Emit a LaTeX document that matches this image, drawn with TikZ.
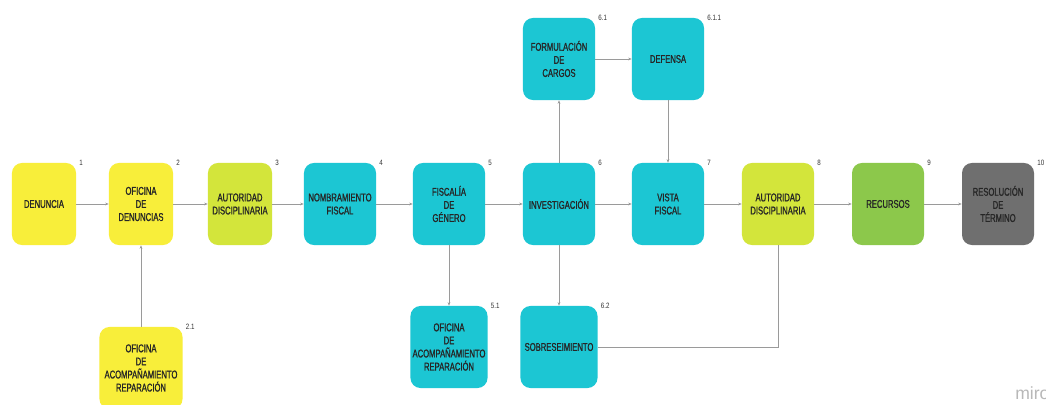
\documentclass[tikz,border=0pt]{standalone}
\usepackage{fontspec}
\setmainfont{Liberation Sans}
\newfontfamily\boxfont{Liberation Sans}[FakeStretch=0.68, FakeBold=1.2]
\newfontfamily\numfont{Liberation Sans}[FakeStretch=0.8]
\usetikzlibrary{positioning, arrows.meta}
\definecolor{denyellow}{HTML}{F8EE3A}
\definecolor{authlime}{HTML}{D3E53B}
\definecolor{fiscyan}{HTML}{1CC6D3}
\definecolor{recgreen}{HTML}{8CC84B}
\definecolor{endgray}{HTML}{6F6F6F}
\definecolor{linkgray}{HTML}{9A9A9A}

\begin{document}
\begin{tikzpicture}[x=0.025cm, y=-0.025cm,
  stage/.style={rounded corners=0.25cm, minimum width=1.8cm, minimum height=2.05cm,
    align=center, inner sep=1pt, font=\boxfont\fontsize{8}{9.3}\selectfont, text=black!85},
  narrow/.style={minimum width=1.6cm},
  wide/.style={minimum width=1.925cm},
  num/.style={font=\numfont\fontsize{5.5}{5.5}\selectfont, text=black!80, inner sep=1pt},
  link/.style={draw=linkgray, line width=0.5pt, -{Stealth[length=2.5pt, width=2pt]}},
  joinline/.style={draw=linkgray, line width=0.5pt}
]
  \useasboundingbox[fill=white] (0,0) rectangle (1046,405);

  % Main row
  \node[stage, narrow, fill=denyellow] (d1) at (44,204) {DENUNCIA};
  \node[stage, narrow, fill=denyellow] (d2) at (141,204) {OFICINA\\DE\\DENUNCIAS};
  \node[stage, narrow, fill=authlime] (d3) at (240,204) {AUTORIDAD\\DISCIPLINARIA};
  \node[stage, fill=fiscyan] (d4) at (340,204) {NOMBRAMIENTO\\FISCAL};
  \node[stage, fill=fiscyan] (d5) at (449,204) {FISCALÍA\\DE\\GÉNERO};
  \node[stage, fill=fiscyan] (d6) at (559,204) {INVESTIGACIÓN};
  \node[stage, fill=fiscyan] (d7) at (668,204) {VISTA\\FISCAL};
  \node[stage, fill=authlime] (d8) at (778,204) {AUTORIDAD\\DISCIPLINARIA};
  \node[stage, fill=recgreen] (d9) at (888,204) {RECURSOS};
  \node[stage, fill=endgray] (d10) at (998,204) {RESOLUCIÓN\\DE\\TÉRMINO};

  % Upper branch
  \node[stage, fill=fiscyan] (d61) at (559,59) {FORMULACIÓN\\DE\\CARGOS};
  \node[stage, fill=fiscyan] (d611) at (668,59) {DEFENSA};

  % Lower branch
  \node[stage, minimum width=2.075cm, fill=denyellow] (d21) at (141,368)
    {OFICINA\\DE\\ACOMPAÑAMIENTO\\REPARACIÓN};
  \node[stage, wide, fill=fiscyan] (d51) at (449,347)
    {OFICINA\\DE\\ACOMPAÑAMIENTO\\REPARACIÓN};
  \node[stage, wide, fill=fiscyan] (d62) at (559,347) {SOBRESEIMIENTO};

  % Step numbers
  \foreach \n/\t in {d1/1, d2/2, d3/3, d4/4, d5/5, d6/6, d7/7, d8/8, d9/9, d10/10,
                     d61/6.1, d611/6.1.1, d21/2.1, d51/5.1, d62/6.2}
    \node[num, right=1pt of \n.north east] (n\n) {\t};

  % Connectors
  \foreach \a/\b in {d1/d2, d2/d3, d3/d4, d4/d5, d5/d6, d6/d7, d7/d8, d8/d9, d9/d10,
                     d21/d2, d5/d51, d6/d61, d6/d62, d61/d611, d611/d7}
    \draw[link] (\a) -- (\b);
  \draw[joinline] (d62) -- (d8 |- d62) -- (d8);

  % Watermark
  \node[anchor=base west, inner sep=0, font=\fontsize{12.5}{12.5}\selectfont, text=black!28]
    (miro) at (1015,400) {miro};
\end{tikzpicture}
\end{document}
